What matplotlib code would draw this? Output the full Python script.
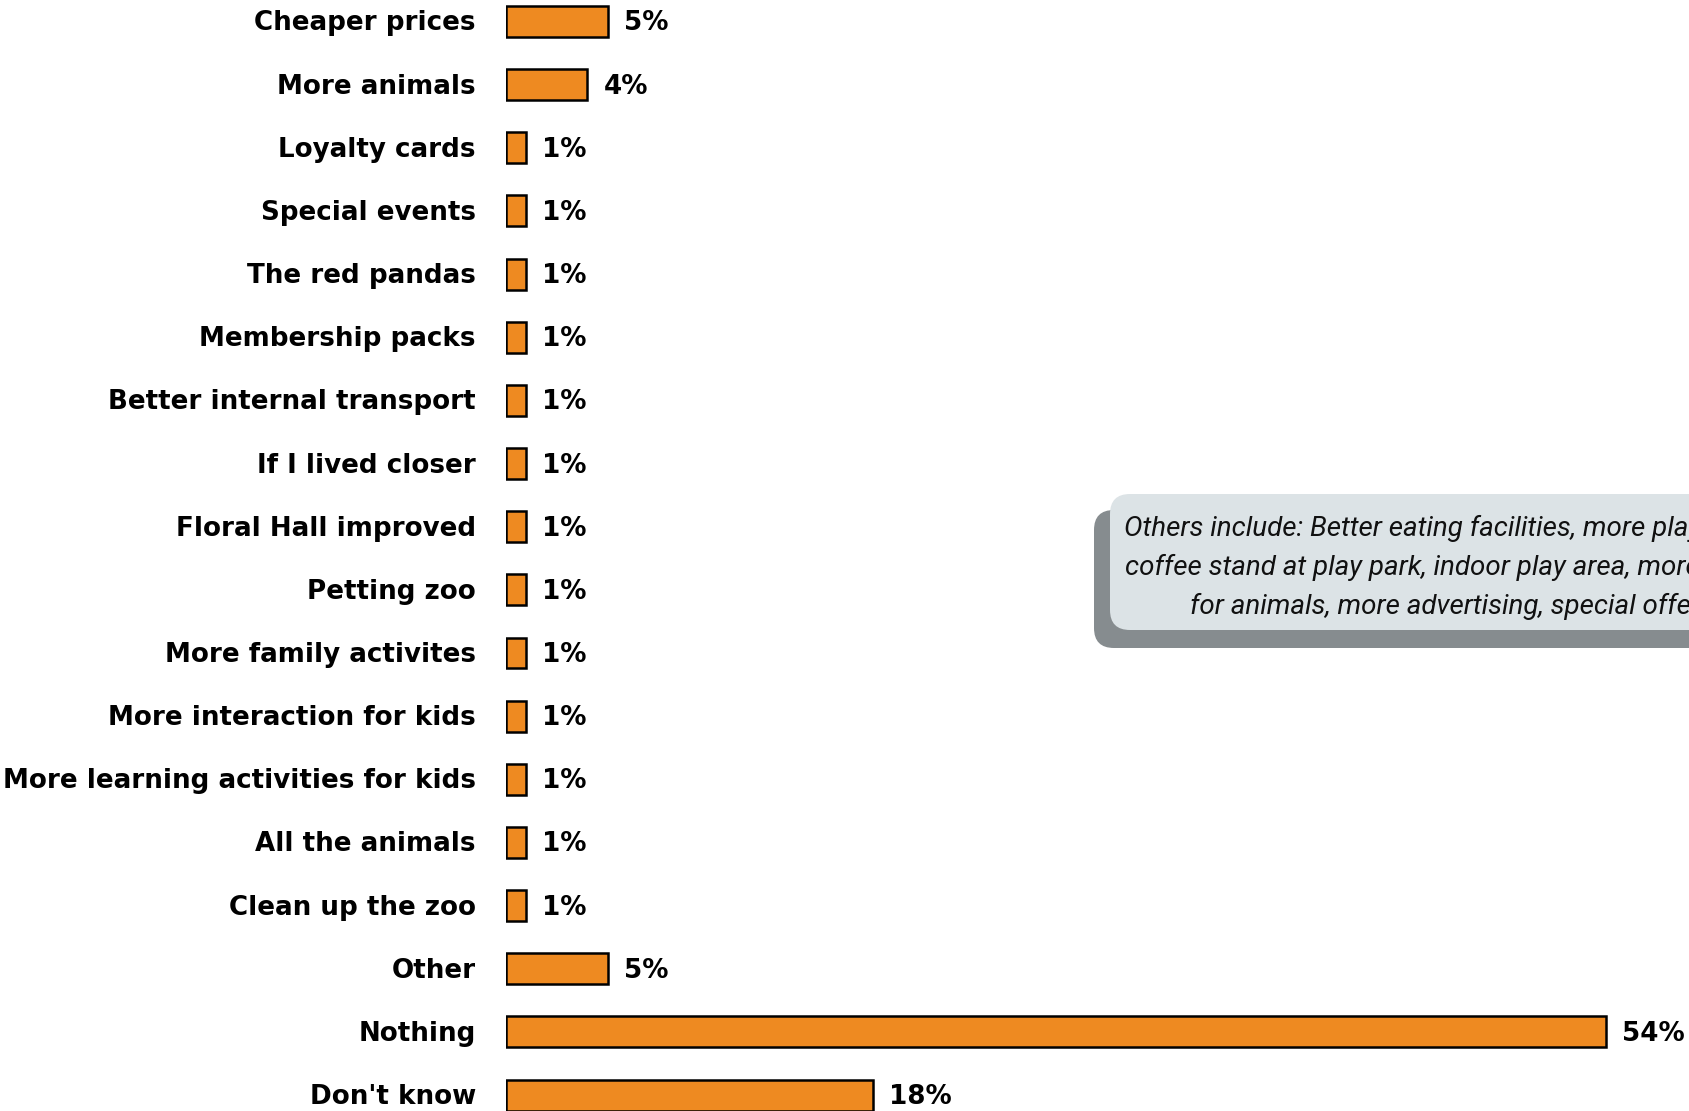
import matplotlib
matplotlib.use("Agg")
import matplotlib.pyplot as plt
from matplotlib.patches import FancyBboxPatch

categories = [
    "Cheaper prices", "More animals", "Loyalty cards", "Special events",
    "The red pandas", "Membership packs", "Better internal transport",
    "If I lived closer", "Floral Hall improved", "Petting zoo",
    "More family activites", "More interaction for kids",
    "More learning activities for kids", "All the animals",
    "Clean up the zoo", "Other", "Nothing", "Don't know",
]
values = [5, 4, 1, 1, 1, 1, 1, 1, 1, 1, 1, 1, 1, 1, 1, 5, 54, 18]
value_labels = [f"{v}%" for v in values]

note_lines = [
    "Others include: Better eating facilities, more play areas,",
    "coffee stand at play park, indoor play area, more space",
    "for animals, more advertising, special offers",
]

W, H = 1690, 1111
fig = plt.figure(figsize=(W / 100, H / 100), dpi=100)
fig.patch.set_facecolor("white")

# plot area: left edge at the bar origin, runs off the right and bottom edges
x0 = 506
px_per_unit = 1100 / 54
row_px = 63.15
first_row_px = 21.5
ax = fig.add_axes([x0 / W, 0, 1 - x0 / W, 1])
ax.set_xlim(0, (W - x0) / px_per_unit)
ax.set_ylim((H - first_row_px) / row_px, -first_row_px / row_px)
ax.axis("off")

label_font = dict(family="DejaVu Sans", fontweight="bold", fontsize=18.8, color="black")

ypos = list(range(len(categories)))
ax.barh(ypos, values, height=0.49, color="#EE8A21", edgecolor="black", linewidth=1.8, zorder=3)

for y, v, lab, cat in zip(ypos, values, value_labels, categories):
    ax.annotate(lab, (v, y), xytext=(16, -2), textcoords="offset pixels",
                ha="left", va="center", **label_font)
    ax.annotate(cat, (0, y), xytext=(-30, -2), textcoords="offset pixels",
                ha="right", va="center", annotation_clip=False, **label_font)

# callout note in pixel coordinates
ov = fig.add_axes([0, 0, 1, 1], zorder=5)
ov.set_xlim(0, W)
ov.set_ylim(H, 0)
ov.axis("off")
shadow = FancyBboxPatch((1094 + 18, 510 + 18), 760, 138 - 36,
                        boxstyle="round,pad=18,rounding_size=20",
                        facecolor="#868C8F", edgecolor="none")
box = FancyBboxPatch((1110 + 18, 494 + 18), 760, 136 - 36,
                     boxstyle="round,pad=18,rounding_size=20",
                     facecolor="#DCE3E6", edgecolor="none")
ov.add_patch(shadow)
ov.add_patch(box)
note_texts = [
    ov.text(1446, 528 + i * 39, line, ha="center", va="center",
            family=["Roboto", "DejaVu Sans"], style="italic",
            fontsize=20, color="#111111")
    for i, line in enumerate(note_lines)
]

# centre the note block so its first line starts just inside the box
renderer = fig.canvas.get_renderer()
first_w = note_texts[0].get_window_extent(renderer).width
cx = 1124 + first_w / 2
for t in note_texts:
    t.set_x(cx)

fig.savefig("out.png", dpi=100)
